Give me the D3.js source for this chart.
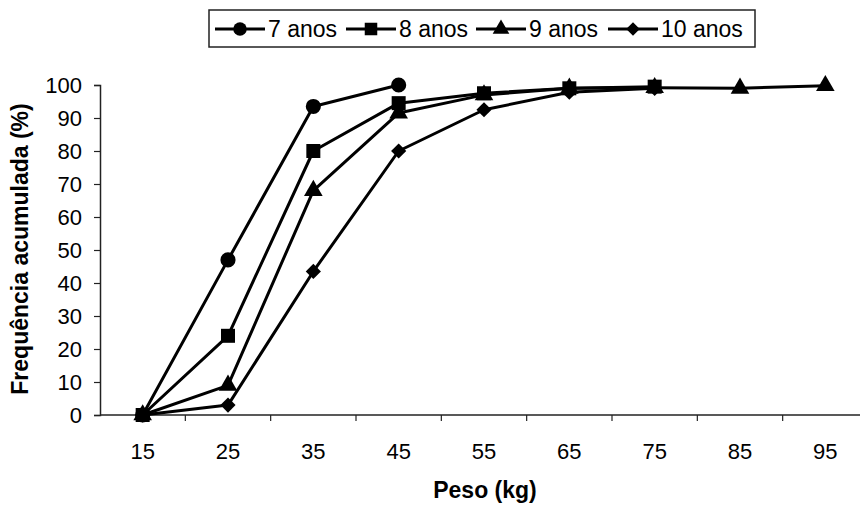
<!DOCTYPE html>
<html><head><meta charset="utf-8">
<script src="https://cdn.jsdelivr.net/npm/d3@7"></script>
<style>body{margin:0;background:#fff}svg{display:block}text{font-family:"Liberation Sans",Arial,sans-serif}</style>
</head><body><svg id="c" width="860" height="507"></svg>
<script>
const categories = [15,25,35,45,55,65,75,85,95];
const yTicks = [0,10,20,30,40,50,60,70,80,90,100];
const seriesNames = ["7 anos","8 anos","9 anos","10 anos"];
const s7  = [0,47,93.5,100];
const s8  = [0,24,80,94.5,97.5,99,99.5];
const s9  = [0,9,68,91.5,97,99,99.2,99,99.8];
const s10 = [0,3,43.5,80,92.5,97.8,99];
const seriesValues = [s7,s8,s9,s10];
const symbols = [d3.symbolCircle,d3.symbolSquare,d3.symbolTriangle,d3.symbolSquare];
const symRot = [0,0,0,45];
const symSizes = [180,196,150,115];

const svg = d3.select("#c");
const x = d3.scaleBand().domain(categories).range([100,868]);
const y = d3.scaleLinear().domain([0,100]).range([415,85]);
const cx = c => x(c)+x.bandwidth()/2;

// axes
const ya = svg.append("g").attr("transform","translate(100,0)")
  .call(d3.axisLeft(y).tickValues(yTicks).tickSize(6).tickPadding(12));
ya.selectAll("text").style("font-size","22px").attr("fill","#000");
ya.select(".domain").attr("stroke","#222").attr("stroke-width",1.5);
ya.selectAll(".tick line").attr("stroke","#222").attr("stroke-width",1.2);

const xa = svg.append("g").attr("transform","translate(0,415)");
xa.append("line").attr("x1",100).attr("x2",860).attr("stroke","#222").attr("stroke-width",1.5);
xa.selectAll("line.t").data(categories.slice(1)).join("line").attr("class","t")
  .attr("x1",d=>x(d)).attr("x2",d=>x(d)).attr("y1",0).attr("y2",6).attr("stroke","#222").attr("stroke-width",1.2);
xa.selectAll("text").data(categories).join("text")
  .attr("x",d=>cx(d)).attr("y",44).attr("text-anchor","middle")
  .style("font-size","22px").text(d=>d);

// lines
const line = d3.line().x((d,i)=>cx(categories[i])).y(d=>y(d));
seriesValues.forEach(v=>{
  svg.append("path").attr("d",line(v)).attr("fill","none").attr("stroke","#000").attr("stroke-width",3).attr("stroke-linejoin","round");
});
// markers: order so that squares on top
[3,2,0,1].forEach(k=>{
  svg.append("g").selectAll("path").data(seriesValues[k]).join("path")
    .attr("transform",(d,i)=>`translate(${cx(categories[i])},${y(d)}) rotate(${symRot[k]})`)
    .attr("d",d3.symbol(symbols[k],symSizes[k])).attr("fill","#000");
});

// axis titles
svg.append("text").attr("x",485).attr("y",498).attr("text-anchor","middle")
  .style("font-size","23px").style("font-weight","bold").text("Peso (kg)");
svg.append("text").attr("transform","translate(28,249) rotate(-90)").attr("text-anchor","middle")
  .style("font-size","23px").style("font-weight","bold").text("Frequência acumulada (%)");

// legend
const lg = svg.append("g");
lg.append("rect").attr("x",209).attr("y",10).attr("width",546).attr("height",37)
  .attr("fill","#fff").attr("stroke","#222").attr("stroke-width",1.5);
const lx = [215,346,476,608];
seriesNames.forEach((n,k)=>{
  const g = lg.append("g").attr("transform",`translate(${lx[k]},29)`);
  g.append("line").attr("x1",0).attr("x2",50).attr("stroke","#000").attr("stroke-width",3);
  g.append("path").attr("transform",`translate(25,0) rotate(${symRot[k]})`).attr("d",d3.symbol(symbols[k],symSizes[k]*0.8)).attr("fill","#000");
  g.append("text").attr("x",53).attr("y",8).style("font-size","23px").text(n);
});
</script></body></html>
